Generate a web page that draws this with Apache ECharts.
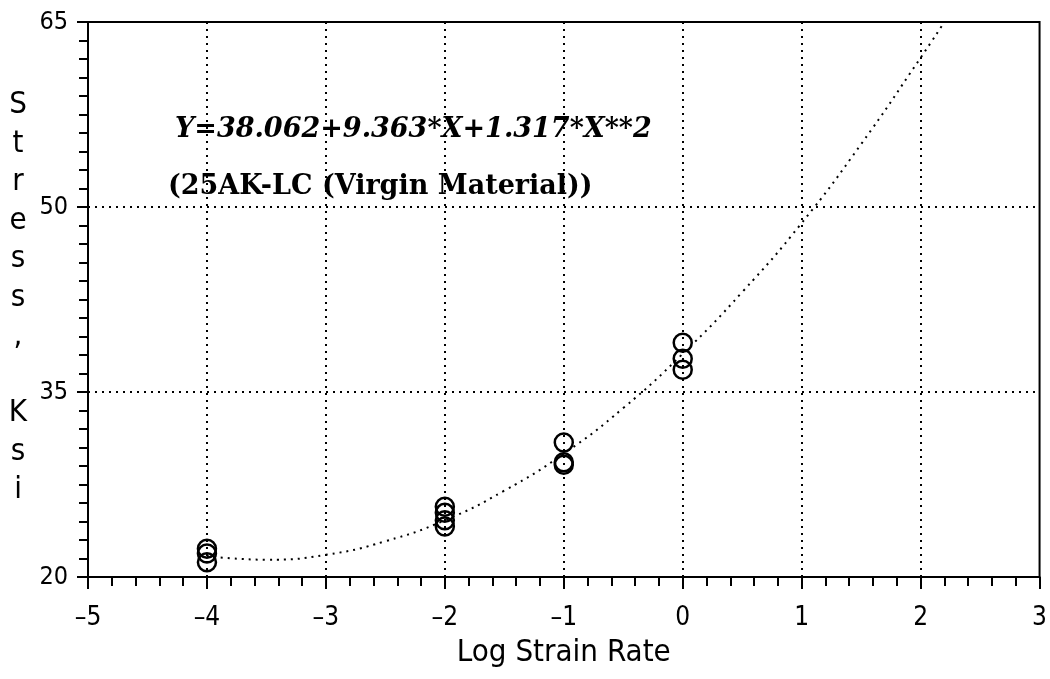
<!DOCTYPE html>
<html>
<head>
<meta charset="utf-8">
<script src="https://cdn.jsdelivr.net/npm/echarts@6/dist/echarts.min.js"></script>
<style>
  html, body { margin: 0; padding: 0; background: #fff; }
  #chart { width: 1050px; height: 679px; }
</style>
</head>
<body>
<div id="chart"></div>
<script>
// Measured stress vs. log strain rate (25AK-LC, virgin material)
const logStrainRate = [-4, -4, -4, -2, -2, -2, -2, -1, -1, -1, 0, 0, 0];
const stressKsi     = [22.3, 21.9, 21.2, 25.7, 25.2, 24.6, 24.1, 30.9, 29.3, 29.1, 39.0, 37.7, 36.8];

// Quadratic fit curve, sampled along X
const fitX = [-4, -3.5, -3, -2.5, -2, -1.5, -1, -0.5, 0, 0.5, 1, 1.5, 2, 2.2];
const fitY = [21.7, 21.4, 21.8, 22.9, 24.6, 27.0, 30.0, 33.7, 38.1, 43.1, 48.7, 55.1, 62.1, 65.0];

const fitEquation = 'Y=38.062+9.363*X+1.317*X**2';
const materialLabel = '(25AK-LC (Virgin Material))';
const xTitle = 'Log Strain Rate';
const yTitle = 'Stress, Ksi';

const NARROW = "'Liberation Sans Narrow', 'DejaVu Sans Condensed', sans-serif";
const SERIF = "'DejaVu Serif', 'Liberation Serif', serif";

const GRID = { left: 88, right: 6, top: 22, bottom: 102 };

const chart = echarts.init(document.getElementById('chart'), null, { renderer: 'canvas' });

// vertical, letter-per-line y-axis title
const yTitleGraphics = yTitle.split('').map((ch, i) => ({
  type: 'text',
  x: 18, y: 105 + i * 38.5,
  style: {
    text: ch,
    font: '31px ' + NARROW,
    fill: '#000',
    align: 'center',
    verticalAlign: 'middle'
  }
}));

const dotted = { color: '#000', width: 2, type: [2, 5] };

chart.setOption({
  animation: false,
  backgroundColor: '#fff',
  grid: {
    left: GRID.left, right: GRID.right, top: GRID.top, bottom: GRID.bottom,
    show: true, borderColor: '#000', borderWidth: 2, backgroundColor: 'transparent'
  },
  xAxis: {
    type: 'value',
    min: -5, max: 3, interval: 1,
    name: xTitle,
    nameLocation: 'middle',
    nameGap: 60,
    nameTextStyle: { fontFamily: NARROW, fontSize: 31, color: '#000' },
    axisLine: { show: true, onZero: false, lineStyle: { color: '#000', width: 2 } },
    axisTick: { show: true, inside: false, length: 12, lineStyle: { color: '#000', width: 2 } },
    minorTick: { show: true, splitNumber: 5, length: 9, lineStyle: { color: '#000', width: 2 } },
    axisLabel: {
      margin: 28, fontFamily: NARROW, fontSize: 26, color: '#000',
      formatter: v => (v < 0 ? '\u2013' + Math.abs(v) : String(v))
    },
    splitLine: { show: true, showMinLine: false, showMaxLine: false, lineStyle: dotted }
  },
  yAxis: {
    type: 'value',
    min: 20, max: 65, interval: 15,
    axisLine: { show: true, onZero: false, lineStyle: { color: '#000', width: 2 } },
    axisTick: { show: true, inside: false, length: 11, lineStyle: { color: '#000', width: 2 } },
    minorTick: { show: true, splitNumber: 10, length: 9, lineStyle: { color: '#000', width: 2 } },
    axisLabel: { margin: 20, fontFamily: NARROW, fontSize: 25, color: '#000' },
    splitLine: { show: true, showMinLine: false, showMaxLine: false, lineStyle: dotted }
  },
  graphic: [
    ...yTitleGraphics,
    {
      type: 'text', x: 175, y: 130,
      style: {
        text: fitEquation,
        font: 'italic bold 27px ' + SERIF,
        fill: '#000', verticalAlign: 'middle'
      }
    },
    {
      type: 'text', x: 168, y: 187,
      style: {
        text: materialLabel,
        font: 'bold 27px ' + SERIF,
        fill: '#000', verticalAlign: 'middle'
      }
    }
  ],
  series: [
    {
      type: 'line',
      data: fitX.map((x, i) => [x, fitY[i]]),
      smooth: true,
      showSymbol: false,
      silent: true,
      lineStyle: { color: '#000', width: 2, type: [2, 5] },
      z: 2
    },
    {
      type: 'scatter',
      data: logStrainRate.map((x, i) => [x, stressKsi[i]]),
      symbol: 'circle',
      symbolSize: 18,
      itemStyle: { color: 'rgba(255,255,255,0)', borderColor: '#000', borderWidth: 2.5, opacity: 1 },
      z: 3
    }
  ]
});
</script>
</body>
</html>
